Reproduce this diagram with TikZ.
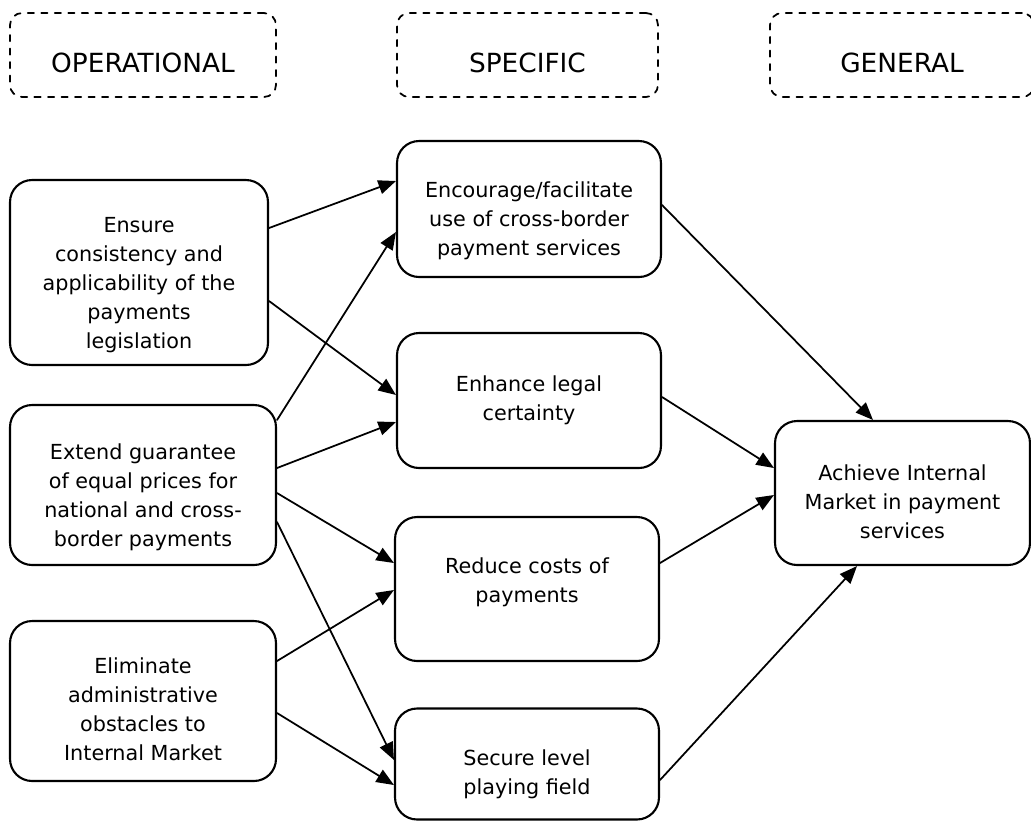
\documentclass[tikz,border=0pt]{standalone}
\usepackage{fontspec}
\setmainfont{DejaVu Sans}
\usetikzlibrary{arrows.meta}

\tikzset{
	goalbox/.style={draw,line width=1.2pt,rounded corners=0.44cm},
	goaltext/.style={align=center,inner sep=0pt,font=\fontsize{11.8}{16.5}\selectfont},
	headbox/.style={draw,line width=1pt,dash pattern=on 3.6pt off 4.1pt,rounded corners=0.24cm,
		minimum height=1.68cm,text height=19.4pt,text depth=0pt,font=\fontsize{15}{18}\selectfont},
	link/.style={->,line width=1pt}
}

\begin{document}
\begin{tikzpicture}[line cap=round,line join=round,>={Triangle[length=10pt,width=8pt]},x=0.02cm,y=-0.02cm]
		\useasboundingbox (0,0) rectangle (1031,823);
		% level headings
		\node[headbox,minimum width=5.32cm] (op) at (143,55) {OPERATIONAL};
		\node[headbox,minimum width=5.22cm] (spec) at (527.5,55) {SPECIFIC};
		\node[headbox,minimum width=5.28cm] (gen) at (902,55) {GENERAL};
		% operational objectives
		\node[goalbox,minimum width=5.16cm,minimum height=3.70cm] (ens) at (139,272.5) {};
		\node[goaltext] (ens-t) at ([yshift=-7.4pt]ens.center) {Ensure\\consistency and\\applicability of the\\payments\\legislation};
		\node[goalbox,minimum width=5.32cm,minimum height=3.20cm] (ext) at (143,485) {};
		\node[goaltext] (ext-t) at ([yshift=-6.8pt]ext.center) {Extend guarantee\\of equal prices for\\national and cross-\\border payments};
		\node[goalbox,minimum width=5.32cm,minimum height=3.20cm] (elim) at (143,701) {};
		\node[goaltext] (elim-t) at ([yshift=-4.5pt]elim.center) {Eliminate\\administrative\\obstacles to\\Internal Market};
		% specific objectives
		\node[goalbox,minimum width=5.28cm,minimum height=2.72cm] (enc) at (529,209) {};
		\node[goaltext] (enc-t) at ([yshift=-6.8pt]enc.center) {Encourage/facilitate\\use of cross-border\\payment services};
		\node[goalbox,minimum width=5.28cm,minimum height=2.70cm] (enh) at (529,400.5) {};
		\node[goaltext] (enh-t) at (enh.center) {Enhance legal\\certainty};
		\node[goalbox,minimum width=5.28cm,minimum height=2.88cm] (red) at (527,589) {};
		\node[goaltext] (red-t) at ([yshift=4pt]red.center) {Reduce costs of\\payments};
		\node[goalbox,minimum width=5.28cm,minimum height=2.22cm] (sec) at (527,764) {};
		\node[goaltext] (sec-t) at ([yshift=-5.7pt]sec.center) {Secure level\\playing field};
		% general objective
		\node[goalbox,minimum width=5.10cm,minimum height=2.88cm] (ach) at (902.5,493) {};
		\node[goaltext] (ach-t) at ([yshift=-5.1pt]ach.center) {Achieve Internal\\Market in payment\\services};
		% operational -> specific
		\draw[link] (ens.east |- 0,228) -- (enc.west |- 0,181);
		\draw[link] (ens.east |- 0,301) -- (enh.west |- 0,395);
		\draw[link] (ext.east |- 0,420) -- (enc.west |- 0,232);
		\draw[link] (ext.east |- 0,468) -- (enh.west |- 0,422);
		\draw[link] (ext.east |- 0,493) -- (red.west |- 0,563);
		\draw[link] (ext.east |- 0,522) -- (sec.west |- 0,760);
		\draw[link] (elim.east |- 0,661) -- (red.west |- 0,590);
		\draw[link] (elim.east |- 0,713) -- (sec.west |- 0,785);
		% specific -> general
		\draw[link] (enc.east |- 0,205) -- (ach.north -| 873,0);
		\draw[link] (enh.east |- 0,397) -- (ach.west |- 0,468);
		\draw[link] (red.east |- 0,563) -- (ach.west |- 0,495);
		\draw[link] (sec.east |- 0,780) -- (ach.south -| 857,0);
	\end{tikzpicture}
\end{document}
